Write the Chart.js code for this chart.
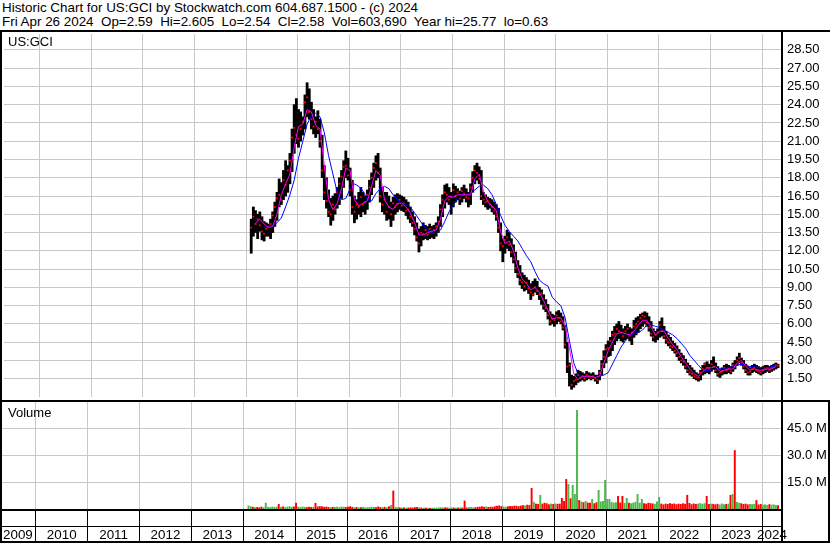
<!DOCTYPE html>
<html>
<head>
<meta charset="utf-8">
<script src="https://cdn.jsdelivr.net/npm/chart.js@4.4.1/dist/chart.umd.min.js"></script>
<style>
  html, body { margin:0; padding:0; background:#fff; }
  #wrap { position:relative; width:830px; height:543px; overflow:hidden; background:#fff;
          font-family:"Liberation Sans", Arial, sans-serif; font-size:13px; color:#000; }
  .txt { position:absolute; white-space:pre; line-height:14px; }
  .hdr { font-size:13.4px; }
  canvas { position:absolute; left:0; }
</style>
</head>
<body>
<div id="wrap">
  <div class="txt hdr" style="left:2px;top:1px;">Historic Chart for US:GCI by Stockwatch.com 604.687.1500 - (c) 2024
Fri Apr 26 2024  Op=2.59  Hi=2.605  Lo=2.54  Cl=2.58  Vol=603,690  Year hi=25.77  lo=0.63</div>
  <canvas id="pc" width="830" height="371" style="top:30px;"></canvas>
  <canvas id="vc" width="830" height="142" style="top:401px;"></canvas>
  <div class="txt" style="left:8px;top:35px;">US:GCI</div>
  <div class="txt" style="left:8px;top:406px;">Volume</div>
</div>
<script>
// ---------- DATA ----------
const years = [2009,2010,2011,2012,2013,2014,2015,2016,2017,2018,2019,2020,2021,2022,2023,2024];
const priceTicks = [1.5,3,4.5,6,7.5,9,10.5,12,13.5,15,16.5,18,19.5,21,22.5,24,25.5,27,28.5];
const volumeTicks = [15e6,30e6,45e6];
const firstBarYear = 2014.10;   // first half-month period (Feb 2014)
const periodsPerYear = 24;      // half-month periods
const maPerYear = 12;           // moving averages read once a month

const lows = [
11.8,13.2,13.5,13.0,13.6,12.9,12.8,13.2,13.2,13.0,
13.5,14.0,14.5,15.6,15.8,16.2,16.5,16.8,17.5,18.5,
20.0,20.8,20.5,21.0,21.5,22.0,23.0,22.8,22.0,21.6,
21.3,21.6,20.5,18.0,16.2,15.5,14.8,14.1,14.5,15.0,
15.5,15.8,16.3,17.2,18.0,17.8,16.5,15.0,14.3,14.6,
15.0,14.8,15.2,15.0,15.4,16.0,16.6,17.2,17.8,18.0,
16.0,15.2,15.0,14.5,14.6,14.0,14.5,15.0,15.2,15.4,
15.3,15.2,14.9,14.6,14.3,14.0,13.3,12.8,11.9,12.4,
12.9,13.0,12.9,13.0,13.1,13.0,13.2,13.5,14.0,14.8,
15.5,16.0,15.8,15.0,15.6,16.0,16.2,15.8,16.0,16.3,
16.0,15.6,15.8,16.8,17.5,17.8,17.5,16.2,15.8,15.6,
15.4,15.5,15.2,15.0,14.5,13.5,12.0,11.1,11.8,12.2,
12.0,11.5,11.0,10.2,9.8,9.2,8.9,8.7,8.8,8.5,
8.0,8.3,8.6,8.4,8.0,7.6,7.2,7.0,6.4,5.9,
6.0,5.8,6.0,6.2,6.0,5.5,4.0,2.0,0.9,0.63,
0.8,1.0,1.2,1.3,1.4,1.3,1.4,1.5,1.4,1.5,
1.3,1.1,1.4,1.8,2.4,2.8,3.3,3.4,3.8,4.3,
4.6,4.8,4.6,4.5,4.7,4.8,4.6,4.3,4.9,5.1,
5.3,5.6,5.8,6.0,5.8,5.4,5.0,4.6,4.5,4.7,
4.9,5.0,4.8,4.4,4.2,4.0,3.8,3.6,3.3,3.0,
2.8,2.6,2.3,2.0,1.8,1.7,1.5,1.4,1.3,1.4,
1.8,1.9,2.0,1.9,2.1,2.3,2.0,1.7,1.6,1.8,
1.9,1.9,2.0,1.9,2.1,2.3,2.6,2.8,2.6,2.3,
2.0,1.8,1.8,2.0,2.1,2.0,1.9,1.8,1.9,2.0,
2.1,2.0,2.1,2.2,2.3,2.4];

const highs = [
14.6,15.6,15.3,15.0,15.2,14.8,14.4,14.3,14.2,14.6,
15.2,16.0,16.8,17.9,17.6,18.6,19.4,19.0,20.0,22.0,
24.0,24.5,23.6,23.4,23.0,24.8,25.8,25.3,24.2,23.6,
23.0,23.5,22.8,21.5,19.0,18.0,17.0,16.3,16.5,16.7,
17.2,18.0,18.6,19.4,20.2,19.6,18.8,17.8,16.5,16.2,
16.8,17.2,16.8,16.5,17.0,17.8,18.4,19.2,19.8,20.0,
18.8,17.2,16.8,16.8,16.5,16.0,16.4,16.6,16.7,16.6,
16.5,16.4,16.2,16.0,15.6,15.2,14.8,14.3,13.8,14.0,
14.3,14.1,14.0,14.2,14.0,14.1,14.3,14.8,15.8,16.6,
17.4,17.5,17.2,16.8,17.5,17.3,17.1,16.9,17.2,17.4,
17.1,16.8,17.5,18.5,19.0,19.2,18.9,18.6,16.8,16.6,
16.4,16.3,16.2,16.0,15.8,15.5,14.3,13.0,13.2,13.7,
13.5,13.0,12.5,11.9,11.2,10.8,10.2,10.0,9.8,9.6,
9.3,9.5,9.7,9.5,9.0,8.8,8.4,8.0,7.6,7.0,
6.8,6.7,7.0,7.1,6.9,6.6,5.9,4.5,2.8,1.8,
1.7,1.9,2.2,2.1,2.0,1.9,2.1,2.0,1.9,2.0,
1.8,1.8,2.2,3.0,3.8,4.3,4.6,4.9,5.4,5.8,
6.0,6.2,5.9,5.6,5.8,6.0,5.7,5.6,6.3,6.5,
6.6,6.8,6.9,7.0,6.9,6.6,6.2,5.6,5.4,5.6,
6.2,6.5,5.8,5.4,5.1,4.9,4.6,4.4,4.2,3.9,
3.6,3.4,3.1,2.8,2.6,2.4,2.2,2.0,1.9,2.2,
2.6,2.8,2.9,2.7,3.0,3.3,2.8,2.5,2.3,2.4,
2.6,2.7,2.6,2.5,2.8,3.0,3.3,3.6,3.2,3.0,
2.7,2.5,2.4,2.6,2.7,2.6,2.5,2.4,2.5,2.6,
2.6,2.5,2.6,2.7,2.8,2.7];

const closes = [
13.9,14.8,14.2,14.6,14.1,13.6,13.4,13.8,14.0,14.2,
14.9,15.6,16.3,16.6,16.2,17.8,17.4,18.6,19.4,21.3,
22.1,21.5,21.2,22.0,22.6,24.2,24.6,23.4,22.8,22.2,
22.6,22.0,21.0,18.6,16.8,16.1,15.2,15.0,15.8,15.4,
16.8,17.5,18.1,18.9,19.0,18.2,17.0,15.6,15.2,15.8,
15.6,16.4,15.8,16.0,16.6,17.2,18.0,18.8,19.2,18.4,
16.5,15.8,16.2,15.2,15.6,15.0,15.9,15.6,15.8,16.2,
15.7,15.9,15.3,15.4,14.8,14.3,13.8,13.1,12.6,13.5,
13.4,13.7,13.3,13.8,13.5,13.7,14.0,14.4,15.4,16.2,
16.8,16.6,16.2,16.4,17.0,16.5,16.8,16.3,16.9,16.7,
16.4,16.3,17.2,18.0,18.6,18.4,17.9,16.5,16.2,16.0,
16.1,15.8,15.6,15.3,14.8,13.9,12.6,12.4,12.9,13.1,
12.5,11.9,11.3,10.6,10.1,9.6,9.4,9.1,9.4,8.9,
8.6,8.4,9.0,8.7,8.4,8.5,7.5,7.3,6.7,6.2,
6.4,6.3,6.7,6.5,6.2,5.7,4.3,2.5,2.6,1.0,
1.3,1.4,1.8,1.6,1.7,1.5,1.8,1.7,1.6,1.7,
1.5,1.4,2.0,2.7,3.3,3.9,4.0,4.6,5.1,5.2,
5.6,5.4,5.3,5.0,5.4,5.6,5.0,5.3,5.8,6.0,
6.2,6.5,6.7,6.6,6.1,5.7,5.2,4.9,5.1,5.3,
5.9,5.4,5.0,4.7,4.5,4.2,4.1,3.8,3.6,3.3,
3.0,2.9,2.5,2.2,2.0,1.9,1.7,1.6,1.6,2.0,
2.3,2.7,2.4,2.3,2.7,2.5,2.2,1.9,2.0,2.1,
2.4,2.2,2.3,2.1,2.6,2.5,3.0,3.2,2.8,2.5,
2.2,2.0,2.1,2.3,2.4,2.2,2.1,2.0,2.2,2.3,
2.4,2.2,2.4,2.5,2.6,2.58];

// volume in millions of shares
const volumes = [
2.0,1.5,1.2,1.0,1.1,0.9,1.3,1.0,3.5,1.2,
1.0,1.4,1.1,1.3,2.8,1.2,1.4,1.0,1.3,1.5,
1.2,1.4,3.5,1.3,1.1,1.4,1.2,1.0,1.3,1.1,
1.2,3.4,1.4,1.6,1.5,1.2,1.3,1.1,1.0,1.2,
1.1,1.3,1.0,1.4,1.2,1.1,1.3,1.5,1.2,1.0,
1.1,0.9,1.0,1.2,0.9,1.0,1.1,1.3,1.2,1.0,
1.4,1.1,1.0,1.2,0.9,1.5,2.2,10.3,1.2,1.0,
0.9,0.8,0.9,0.7,0.8,0.9,0.8,1.0,1.1,0.9,
0.8,0.7,0.8,0.7,0.6,0.7,0.8,0.7,0.9,1.0,
0.8,0.9,0.8,0.7,0.9,0.8,0.7,0.8,0.9,0.8,
4.7,0.8,1.0,1.1,0.9,1.0,1.2,1.3,1.5,1.2,
1.4,1.1,1.3,1.2,1.5,1.8,2.0,1.6,1.4,1.3,
1.5,1.7,1.6,1.9,1.8,1.6,1.9,2.1,2.0,2.4,
2.2,11.8,4.0,3.0,2.8,7.9,3.0,3.5,3.2,2.6,
3.0,2.8,3.1,2.9,3.0,6.2,4.5,16.8,14.0,6.0,
13.5,8.4,55.5,5.0,4.2,3.8,4.5,3.6,3.5,5.6,
3.2,3.8,10.7,4.2,4.5,16.3,5.6,5.6,4.0,3.5,
3.8,7.3,3.6,7.3,3.4,6.2,3.5,3.2,3.6,4.0,
8.4,3.5,5.6,3.2,3.0,3.5,3.3,3.1,2.9,4.2,
6.7,3.0,2.6,3.0,2.8,3.3,2.9,3.1,2.7,3.0,
2.8,3.2,2.9,7.9,3.4,2.7,3.1,2.8,3.0,3.3,
2.9,3.2,7.3,2.8,3.0,2.9,2.6,2.9,2.5,3.1,
2.7,2.8,3.0,7.9,8.4,33.0,4.0,3.5,3.2,2.8,
3.0,2.6,2.8,2.7,2.9,5.0,2.5,2.8,2.4,2.6,
2.3,2.7,2.4,2.6,2.2,2.1];

// short (magenta) and long (blue) moving averages, monthly readings
const maShort = [
null,14.3,14.6,14.2,13.9,14.0,15.0,16.6,17.5,18.3,
20.5,22.2,22.4,23.6,23.4,22.3,22.0,19.0,16.2,15.4,
15.9,17.1,18.8,18.6,16.2,15.7,15.9,16.1,17.3,18.6,
18.2,16.2,15.6,15.4,15.9,15.9,15.6,15.1,14.3,13.3,
13.3,13.5,13.6,13.7,14.6,16.1,16.5,16.4,16.6,16.6,
16.6,16.6,17.9,18.3,16.9,16.0,15.7,15.3,13.6,12.6,
12.8,12.0,10.6,9.7,9.3,8.8,9.0,8.6,7.9,7.1,
6.4,6.5,6.5,5.8,4.0,1.9,1.4,1.7,1.7,1.7,
1.6,1.7,2.8,3.8,4.5,5.2,5.3,5.2,5.1,5.4,
5.9,6.3,6.3,5.7,5.1,5.4,5.4,4.8,4.3,3.9,
3.3,2.8,2.3,1.9,1.7,2.1,2.4,2.4,2.5,2.1,
2.2,2.3,2.3,2.8,3.0,2.5,2.2,2.3,2.2,2.2,
2.3,2.3,2.5];

const maLong = [
null,null,null,13.9,14.0,14.1,14.3,14.7,15.6,16.6,
17.8,19.6,21.0,22.4,23.1,23.3,23.0,21.7,19.8,18.3,
16.8,16.2,16.3,17.1,17.5,17.3,16.9,16.2,16.1,16.7,
17.1,17.3,17.1,16.6,16.2,15.9,15.8,15.6,15.1,14.6,
14.1,13.7,13.5,13.4,13.7,14.4,15.2,15.8,16.2,16.5,
16.6,16.8,17.0,17.3,17.4,17.1,16.6,15.8,14.9,14.1,
13.6,13.2,12.8,12.2,11.6,11.1,10.3,9.6,9.3,9.1,
8.2,7.8,7.5,6.5,4.6,2.8,1.9,1.7,1.6,1.6,
1.6,1.7,1.8,2.0,2.7,3.4,4.1,4.6,5.0,5.2,
5.3,5.5,5.9,5.9,5.8,5.7,5.5,5.3,5.1,4.8,
4.4,4.0,3.4,3.0,2.6,2.2,2.2,2.2,2.3,2.3,
2.3,2.4,2.5,2.6,2.7,2.6,2.5,2.5,2.4,2.4,
2.4,2.5,2.5];

// ---------- BUILD ----------
const xMin = 2009.31, xMax = 2024.385;
const tBar = i => firstBarYear + i / periodsPerYear;
const tMa = j => firstBarYear + j / maPerYear;

const rangePts = lows.map((l, i) => ({ x: tBar(i), y: [l, highs[i]] }));
const closePts = closes.map((c, i) => ({ x: tBar(i), y: c }));
const maShortPts = maShort.map((v, j) => ({ x: tMa(j), y: v }));
const maLongPts = maLong.map((v, j) => ({ x: tMa(j), y: v }));
const volPts = volumes.map((v, i) => ({ x: tBar(i), y: v * 1e6 }));
const volColors = volumes.map((v, i) => (i > 0 && closes[i] < closes[i - 1]) ? '#ff0000' : '#4cb84c');

Chart.defaults.font.family = '"Liberation Sans", Arial, sans-serif';
Chart.defaults.font.size = 13;
Chart.defaults.color = '#000';

const GRID = '#c8c8c8';
const yearGridTicks = s => { s.ticks = years.slice(1).map(v => ({ value: v })); };
const noPad = s => { s.paddingTop = 0; s.paddingBottom = 0; s.paddingLeft = 0; s.paddingRight = 0; };

const priceFrame = {
  id: 'priceFrame',
  afterDraw(chart) {
    const c = chart.ctx, W = chart.width, H = chart.height, ca = chart.chartArea;
    c.save();
    c.fillStyle = '#000';
    c.fillRect(0, 0, W, 2);            // top
    c.fillRect(0, H - 1, W, 1);        // bottom
    c.fillRect(0, 0, 2, H);            // left
    c.fillRect(ca.right - 1, 0, 2, H); // axis divider
    c.restore();
  }
};

const volFrame = {
  id: 'volFrame',
  afterDraw(chart) {
    const c = chart.ctx, W = chart.width, H = chart.height, ca = chart.chartArea;
    const xs = chart.scales.x;
    c.save();
    c.fillStyle = '#000';
    c.fillRect(0, ca.top - 1, W, 1);            // top
    c.fillRect(0, ca.bottom, ca.right, 2);      // bottom of volume panel
    c.fillRect(0, ca.bottom + 17, ca.right, 1); // band divider
    c.fillRect(0, H - 2, W, 2);                 // very bottom
    c.fillRect(0, 0, 2, H);                     // left
    c.fillRect(ca.right - 1, 0, 2, H);          // axis divider
    c.fillRect(W - 2, 0, 2, H);                 // right edge
    // year labels
    c.font = '13.4px "Liberation Sans", Arial, sans-serif';
    c.textAlign = 'center';
    c.textBaseline = 'alphabetic';
    years.forEach(y => {
      const a = Math.max(xs.getPixelForValue(y), ca.left);
      const b = Math.min(xs.getPixelForValue(y + 1), ca.right);
      c.fillText(String(y), (a + b) / 2, H - 4);
    });
    c.restore();
  }
};

new Chart(document.getElementById('pc'), {
  type: 'bar',
  data: {
    datasets: [
      { type: 'line', data: maShortPts, borderColor: '#ff00ff', borderWidth: 1, pointRadius: 0, order: 0 },
      { type: 'line', data: maLongPts, borderColor: '#0000ff', borderWidth: 1, pointRadius: 0, order: 1 },
      { type: 'line', data: closePts, showLine: false, pointStyle: 'rect', pointRadius: 1.3,
        pointBackgroundColor: '#ff0000', pointBorderWidth: 0, order: 2 },
      { type: 'bar', data: rangePts, backgroundColor: '#000', barPercentage: 1, categoryPercentage: 1, order: 3 }
    ]
  },
  options: {
    responsive: false, animation: false, events: [],
    layout: { padding: { top: 1, bottom: 1, left: 0, right: 0 } },
    plugins: { legend: { display: false }, tooltip: { enabled: false } },
    scales: {
      x: { type: 'linear', min: xMin, max: xMax, offset: false,
           grid: { offset: false, color: GRID, drawTicks: false }, border: { display: false },
           ticks: { display: false }, afterBuildTicks: yearGridTicks,
           afterFit: s => { s.height = 0; noPad(s); } },
      y: { type: 'linear', position: 'right', min: 0, max: 29.8,
           grid: { color: GRID, drawTicks: false }, border: { display: false },
           ticks: { padding: 5, callback: v => v.toFixed(2) },
           afterBuildTicks: s => { s.ticks = priceTicks.map(v => ({ value: v })); },
           afterFit: s => { s.width = 48; noPad(s); } }
    }
  },
  plugins: [priceFrame]
});

new Chart(document.getElementById('vc'), {
  type: 'bar',
  data: {
    datasets: [
      { type: 'bar', data: volPts, backgroundColor: volColors, barPercentage: 0.9, categoryPercentage: 1 }
    ]
  },
  options: {
    responsive: false, animation: false, events: [],
    layout: { padding: { top: 1, bottom: 0, left: 0, right: 0 } },
    plugins: { legend: { display: false }, tooltip: { enabled: false } },
    scales: {
      x: { type: 'linear', min: xMin, max: xMax, offset: false,
           grid: { offset: false, color: GRID, tickColor: '#000', drawTicks: true, tickLength: 34 },
           border: { display: false }, ticks: { display: false },
           afterBuildTicks: yearGridTicks, afterFit: s => { s.height = 34; noPad(s); } },
      y: { type: 'linear', position: 'right', min: 0, max: 60e6,
           grid: { color: GRID, drawTicks: false }, border: { display: false },
           ticks: { padding: 5, callback: v => (v / 1e6).toFixed(1) + ' M' },
           afterBuildTicks: s => { s.ticks = volumeTicks.map(v => ({ value: v })); },
           afterFit: s => { s.width = 48; noPad(s); } }
    }
  },
  plugins: [volFrame]
});
</script>
</body>
</html>
